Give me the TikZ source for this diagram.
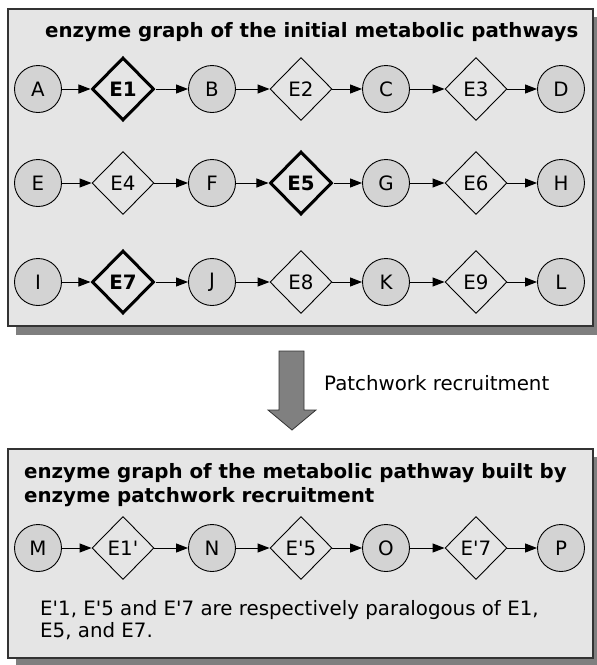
\documentclass[tikz,border=0pt]{standalone}
\usepackage{fontspec}
\setmainfont{DejaVu Sans}
\usetikzlibrary{shapes.geometric,arrows.meta}
\definecolor{boxfill}{HTML}{E5E5E5}
\definecolor{shadowc}{HTML}{7F7F7F}
\definecolor{nodefill}{HTML}{D3D3D3}
\definecolor{bigarrow}{HTML}{808080}
\newcommand\sq{\textquotesingle}
\begin{document}
\begin{tikzpicture}[x=1pt,y=-1pt,
  every node/.style={font=\fontsize{19.8}{23}\selectfont},
  metab/.style={circle,draw=black,line width=0.9pt,fill=nodefill,minimum size=47pt,inner sep=0pt},
  enz/.style={diamond,draw=black,line width=0.9pt,minimum width=62pt,minimum height=63pt,inner sep=0pt},
  key/.style={enz,line width=3pt,font=\fontsize{19.8}{23}\selectfont\bfseries},
  flow/.style={draw=black,line width=1pt,-{Triangle[length=12pt,width=9pt]}},
  panel/.style={draw=black!80,line width=1.2pt,fill=boxfill},
  shadow/.style={fill=shadowc},
  ttl/.style={anchor=base west,inner sep=0pt,font=\fontsize{19.8}{24}\selectfont\bfseries},
  txt/.style={anchor=base west,inner sep=0pt}]
\useasboundingbox (0,0) rectangle (597,665);
% panels
\fill[shadow] (16,17) rectangle (601,335);
\draw[panel] (8,9) rectangle (593,326);
\fill[shadow] (16,457) rectangle (601,666);
\draw[panel] (8,449) rectangle (593,658);
\node[ttl] (t1) at (45,37) {enzyme graph of the initial metabolic pathways};
% row 1
\node[metab] (A) at (38,89) {A};
\node[key] (E1) at (123,89) {E1};
\node[metab] (B) at (212,89) {B};
\node[enz] (E2) at (301,89) {E2};
\node[metab] (C) at (386,89) {C};
\node[enz] (E3) at (476,89) {E3};
\node[metab] (D) at (561,89) {D};
% row 2
\node[metab] (E) at (38,183) {E};
\node[enz] (E4) at (123,183) {E4};
\node[metab] (F) at (212,183) {F};
\node[key] (E5) at (301,183) {E5};
\node[metab] (G) at (386,183) {G};
\node[enz] (E6) at (476,183) {E6};
\node[metab] (H) at (561,183) {H};
% row 3
\node[metab] (I) at (38,282) {I};
\node[key] (E7) at (123,282) {E7};
\node[metab] (J) at (212,282) {J};
\node[enz] (E8) at (301,282) {E8};
\node[metab] (K) at (386,282) {K};
\node[enz] (E9) at (476,282) {E9};
\node[metab] (L) at (561,282) {L};
\foreach \a/\b in {A/E1,E1/B,B/E2,E2/C,C/E3,E3/D,E/E4,E4/F,F/E5,E5/G,G/E6,E6/H,I/E7,E7/J,J/E8,E8/K,K/E9,E9/L}
  \draw[flow] (\a) -- (\b);
% big arrow
\draw[fill=bigarrow,draw=black!80,line width=0.8pt] (279,351) -- (304,351) -- (304,410) -- (316,410) -- (292,430) -- (268,410) -- (279,410) -- cycle;
\node[txt] (pr) at (324,390) {Patchwork recruitment};
% bottom panel
\node[ttl,align=left] (t2) at (24,502) {enzyme graph of the metabolic pathway built by\\enzyme patchwork recruitment};
\node[metab] (M) at (38,548) {M};
\node[enz] (E1p) at (123,548) {E1\sq};
\node[metab] (N) at (212,548) {N};
\node[enz] (E5p) at (301,548) {E\sq5};
\node[metab] (O) at (386,548) {O};
\node[enz] (E7p) at (476,548) {E\sq7};
\node[metab] (P) at (561,548) {P};
\foreach \a/\b in {M/E1p,E1p/N,N/E5p,E5p/O,O/E7p,E7p/P}
  \draw[flow] (\a) -- (\b);
\node[txt,align=left,font=\fontsize{19.8}{22}\selectfont] (note) at (40,637) {E\sq1, E\sq5 and E\sq7 are respectively paralogous of E1,\\E5, and E7.};
\end{tikzpicture}
\end{document}
